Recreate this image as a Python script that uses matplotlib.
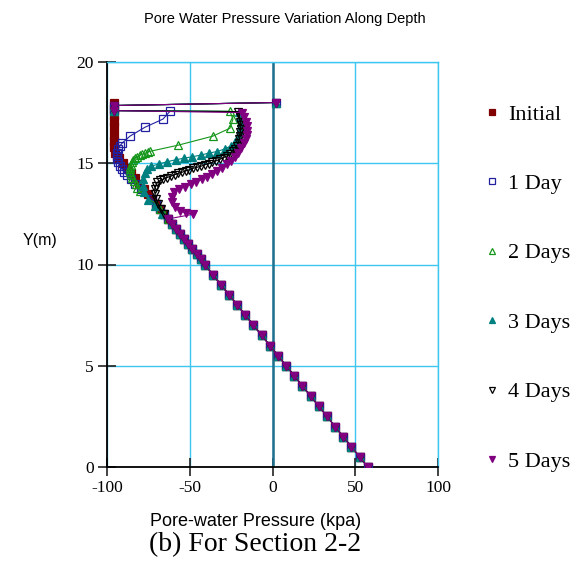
import matplotlib
matplotlib.use("Agg")
import matplotlib.pyplot as plt
from matplotlib.lines import Line2D

plt.rcParams['axes.unicode_minus'] = False

# hydrostatic part, common to every stage (0 - 10 m)
depth_low = [0.0, 0.5, 1.0, 1.5, 2.0, 2.5, 3.0, 3.5, 4.0, 4.5, 5.0,
             5.5, 6.0, 6.5, 7.0, 7.5, 8.0, 8.5, 9.0, 9.5, 10.0]
pwp_low = [57.5, 52.6, 47.7, 42.7, 37.8, 32.9, 28.0, 23.0, 18.1, 13.2, 8.3,
           3.3, -1.6, -6.5, -11.5, -16.4, -21.3, -26.2, -31.2, -36.1, -41.0]

# hydrostatic continuation above 10 m
depth_mid = [10.25, 10.5, 10.75, 11.0, 11.25, 11.5, 11.75, 12.0, 12.25, 12.5,
             12.75, 13.0, 13.25, 13.5, 13.75, 14.0, 14.25, 14.5, 14.75, 15.0, 15.25, 15.5]
pwp_mid = [-43.5, -45.9, -48.4, -50.9, -53.3, -55.8, -58.2, -60.7, -63.2, -65.6,
           -68.1, -70.6, -73.0, -75.5, -77.9, -80.4, -82.9, -85.3, -87.8, -90.3, -92.7, -95.2]

# surface nodes shared by the infiltration stages
depth_top = [17.6, 17.85, 18.0]
pwp_top = [-96, -96, 2]

init_y = [15.8, 16.1, 16.4, 16.8, 17.1, 17.4, 17.7, 18.0]
init_p = [-96, -96, -96, -96, -96, -96, -96, -96]

day1_y = [13.75, 14.0, 14.2, 14.4, 14.55, 14.7, 14.85, 15.05, 15.2, 15.35, 15.5,
          15.69, 15.85, 15.99, 16.34, 16.78, 17.18, 17.57]
day1_p = [-79.5, -83.0, -85.5, -87.9, -89.5, -90.9, -92.2, -93.4, -93.9, -94.0, -93.8,
          -93.4, -92.3, -90.9, -86.1, -77.0, -66.2, -61.9]

day2_y = [13.61, 13.8, 13.96, 14.1, 14.26, 14.4, 14.55, 14.7, 14.8, 14.93, 15.05,
          15.15, 15.25, 15.33, 15.4, 15.45, 15.5, 15.55, 15.59, 15.89, 16.34, 16.73,
          17.18, 17.57]
day2_p = [-80.1, -81.6, -82.5, -83.8, -84.9, -85.7, -86.1, -86.1, -86.1, -85.6, -84.9,
          -84.0, -83.1, -81.6, -80.1, -78.6, -77.0, -75.5, -74.0, -57.1, -36.0, -25.7,
          -23.9, -25.7]

day3_y = [12.5, 12.87, 13.2, 13.56, 13.9, 14.21, 14.5, 14.7, 14.85, 14.97, 15.08,
          15.17, 15.25, 15.32, 15.4, 15.5, 15.58, 15.7, 15.85, 16.05, 16.29, 16.55,
          16.8, 17.05, 17.3, 17.55]
day3_p = [-66.5, -71.0, -75.0, -77.5, -78.2, -78.0, -77.0, -75.8, -73.5, -68.5, -63.5,
          -58.5, -53.5, -48.5, -43.5, -38.5, -33.5, -29.0, -25.3, -22.5, -20.8, -19.5,
          -19.0, -19.1, -19.6, -20.3]

day4_y = [12.72, 12.97, 13.22, 13.47, 13.71, 13.9, 14.06, 14.15, 14.21, 14.29, 14.36,
          14.43, 14.5, 14.55, 14.62, 14.68, 14.75, 14.8, 14.85, 14.92, 14.98, 15.05,
          15.12, 15.2, 15.28, 15.37, 15.47, 15.59, 15.72, 15.86, 16.02, 16.19, 16.36,
          16.53, 16.7, 16.88, 17.06, 17.28, 17.55]
day4_p = [-67.5, -69.0, -70.2, -71.0, -71.2, -70.5, -69.5, -67.8, -66.0, -63.8, -61.5,
          -59.2, -57.0, -54.8, -52.5, -50.2, -48.0, -45.6, -43.3, -41.0, -38.6, -36.3,
          -34.0, -31.7, -29.5, -27.4, -25.5, -23.8, -22.4, -21.3, -20.5, -20.0, -19.6,
          -19.4, -19.3, -19.3, -19.5, -19.9, -20.6]

day5_y = [12.48, 12.55, 12.62, 12.82, 13.1, 13.35, 13.58, 13.72, 13.84, 13.96, 14.08,
          14.21, 14.33, 14.46, 14.6, 14.77, 14.94, 15.12, 15.32, 15.53, 15.76, 15.98,
          16.2, 16.4, 16.6, 16.82, 17.05, 17.28, 17.5]
day5_p = [-48.0, -52.0, -56.0, -59.0, -60.7, -61.0, -59.5, -56.5, -53.0, -49.5, -46.0,
          -42.5, -39.5, -36.5, -33.5, -30.5, -27.7, -25.2, -22.9, -20.8, -18.8, -17.2,
          -16.2, -15.5, -15.3, -15.6, -16.3, -17.2, -18.3]

labels = ['Initial', '1 Day', '2 Days', '3 Days', '4 Days', '5 Days']
colors = ['#800000', '#2020a0', '#15961a', '#008080', '#000000', '#800080']
markers = ['s', 's', '^', '^', 'v', 'v']
filled = [True, False, False, True, False, True]


def build(n_mid, up_y, up_p, top=True):
    ys = depth_low + depth_mid[:n_mid] + up_y
    ps = pwp_low + pwp_mid[:n_mid] + up_p
    if top:
        ys = ys + depth_top
        ps = ps + pwp_top
    return ps, ys


series = [
    build(len(depth_mid), init_y, init_p, top=False),
    build(13, day1_y, day1_p),
    build(12, day2_y, day2_p),
    build(8, day3_y, day3_p),
    build(10, day4_y, day4_p),
    build(9, day5_y, day5_p),
]

fig = plt.figure(figsize=(5.71, 5.62), dpi=100)
ax = fig.add_axes([107 / 571, 1 - 467 / 562, 331 / 571, 405 / 562])

ax.set_xlim(-100, 100)
ax.set_ylim(0, 20)
ax.set_xticks([-100, -50, 0, 50, 100])
ax.set_yticks([0, 5, 10, 15, 20])
ax.grid(True, color='#3cc6f2', linewidth=1.0)
ax.set_axisbelow(True)
ax.axvline(0, color='#206f8d', linewidth=1.8, zorder=1.5)

for (ps, ys), lab, c, m, f in zip(series, labels, colors, markers, filled):
    ax.plot(ps, ys, color=c, linewidth=0.8, marker=m, markersize=6.3,
            markerfacecolor=c if f else 'none', markeredgecolor=c,
            markeredgewidth=0.9, zorder=3)

for side in ['left', 'bottom']:
    ax.spines[side].set_color('black')
    ax.spines[side].set_linewidth(1.3)
for side in ['top', 'right']:
    ax.spines[side].set_color('#3cc6f2')
    ax.spines[side].set_linewidth(1.0)

ax.tick_params(direction='inout', length=13, width=1.2, color='#222222', pad=3)
for t in ax.get_xticklabels() + ax.get_yticklabels():
    t.set_family('Liberation Serif')
    t.set_fontsize(12.5)

handles = []
for lab, c, m, f in zip(labels, colors, markers, filled):
    handles.append(Line2D([], [], linestyle='none', marker=m, markersize=5,
                          markerfacecolor=c if f else 'none', markeredgecolor=c,
                          markeredgewidth=0.9, label=lab))
fig.legend(handles=handles, loc='upper left', bbox_to_anchor=(485 / 571, 1 - 104 / 562),
           frameon=False, borderpad=0, borderaxespad=0, handlelength=0.6,
           handletextpad=0.45, labelspacing=2.2,
           prop={'family': 'Liberation Serif', 'size': 16})

fig.text(285 / 571, 1 - 19 / 562, 'Pore Water Pressure Variation Along Depth',
         ha='center', va='center', fontsize=10.5, family='Liberation Sans')
fig.text(40 / 571, 1 - 241 / 562, 'Y(m)', ha='center', va='center',
         fontsize=11.5, family='Liberation Sans')
fig.text(256 / 571, 1 - 521 / 562, 'Pore-water Pressure (kpa)', ha='center', va='center',
         fontsize=13, family='Liberation Sans')
fig.text(255 / 571, 1 - 545 / 562, '(b) For Section 2-2', ha='center', va='center',
         fontsize=20, family='Liberation Serif')

fig.savefig('out.png', dpi=100)
